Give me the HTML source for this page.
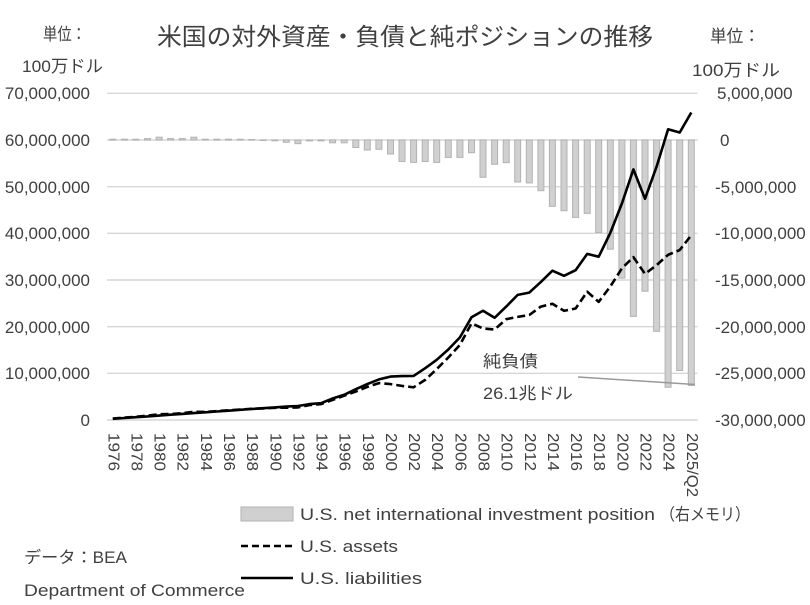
<!DOCTYPE html>
<html><head><meta charset="utf-8">
<style>
html,body{margin:0;padding:0;background:#fff;}
svg{display:block;}
text{font-family:"Liberation Sans","Noto Sans CJK JP",sans-serif;fill:#404040;}
.cjk{font-family:"Liberation Sans","Noto Sans CJK JP",sans-serif;}
</style></head>
<body>
<svg width="810" height="605" viewBox="0 0 810 605" xmlns="http://www.w3.org/2000/svg">
<rect width="810" height="605" fill="#fff"/>
<!-- title & units -->
<text x="405" y="45" font-size="24" text-anchor="middle" textLength="496" lengthAdjust="spacingAndGlyphs" fill="#262626" class="cjk">米国の対外資産・負債と純ポジションの推移</text>
<text x="43" y="40" font-size="17" textLength="43" lengthAdjust="spacingAndGlyphs" class="cjk">単位：</text>
<text x="22" y="72" font-size="17" textLength="81" lengthAdjust="spacingAndGlyphs" class="cjk">100万ドル</text>
<text x="710" y="42" font-size="17" textLength="50" lengthAdjust="spacingAndGlyphs" class="cjk">単位：</text>
<text x="692" y="76" font-size="17" textLength="88" lengthAdjust="spacingAndGlyphs" class="cjk">100万ドル</text>

<!-- gridlines -->
<g stroke="#d6d6d6" stroke-width="1.4">
<line x1="107" y1="93.3" x2="697.5" y2="93.3"/>
<line x1="107" y1="140" x2="697.5" y2="140"/>
<line x1="107" y1="186.7" x2="697.5" y2="186.7"/>
<line x1="107" y1="233.3" x2="697.5" y2="233.3"/>
<line x1="107" y1="280" x2="697.5" y2="280"/>
<line x1="107" y1="326.7" x2="697.5" y2="326.7"/>
<line x1="107" y1="373.3" x2="697.5" y2="373.3"/>
<line x1="107" y1="420" x2="697.5" y2="420"/>
</g>

<!-- left axis labels -->
<g font-size="17" text-anchor="end">
<text x="90" y="99">70,000,000</text>
<text x="90" y="146">60,000,000</text>
<text x="90" y="193">50,000,000</text>
<text x="90" y="239">40,000,000</text>
<text x="90" y="286">30,000,000</text>
<text x="90" y="333">20,000,000</text>
<text x="90" y="379">10,000,000</text>
<text x="90" y="426">0</text>
</g>
<!-- right axis labels -->
<g font-size="17" text-anchor="start">
<text x="717" y="99">5,000,000</text>
<text x="720" y="146">0</text>
<text x="715" y="193">-5,000,000</text>
<text x="715" y="239">-10,000,000</text>
<text x="715" y="286">-15,000,000</text>
<text x="715" y="333">-20,000,000</text>
<text x="715" y="379">-25,000,000</text>
<text x="715" y="426">-30,000,000</text>
</g>

<!-- bars -->
<g fill="#d0d0d0" stroke="#b2b2b2" stroke-width="1">
<rect x="109.8" y="139.2" width="6" height="0.8"/>
<rect x="121.4" y="139.2" width="6" height="0.8"/>
<rect x="132.9" y="139.2" width="6" height="0.8"/>
<rect x="144.5" y="138.6" width="6" height="1.4"/>
<rect x="156.1" y="137.2" width="6" height="2.8"/>
<rect x="167.6" y="138.6" width="6" height="1.4"/>
<rect x="179.2" y="138.6" width="6" height="1.4"/>
<rect x="190.8" y="137.2" width="6" height="2.8"/>
<rect x="202.3" y="139.2" width="6" height="0.8"/>
<rect x="213.9" y="139.2" width="6" height="0.8"/>
<rect x="225.5" y="139.2" width="6" height="0.8"/>
<rect x="237.1" y="139.2" width="6" height="0.8"/>
<rect x="248.6" y="139.5" width="6" height="0.5"/>
<rect x="260.2" y="140" width="6" height="0.5"/>
<rect x="271.8" y="140" width="6" height="0.8"/>
<rect x="283.3" y="140" width="6" height="2.3"/>
<rect x="294.9" y="140" width="6" height="3.7"/>
<rect x="306.5" y="140" width="6" height="0.9"/>
<rect x="318.0" y="140" width="6" height="0.9"/>
<rect x="329.6" y="140" width="6" height="2.8"/>
<rect x="341.2" y="140" width="6" height="2.8"/>
<rect x="352.8" y="140" width="6" height="7.5"/>
<rect x="364.3" y="140" width="6" height="10"/>
<rect x="375.9" y="140" width="6" height="9.3"/>
<rect x="387.5" y="140" width="6" height="14"/>
<rect x="399.0" y="140" width="6" height="21.5"/>
<rect x="410.6" y="140" width="6" height="22.4"/>
<rect x="422.2" y="140" width="6" height="21.5"/>
<rect x="433.7" y="140" width="6" height="22.4"/>
<rect x="445.3" y="140" width="6" height="17.4"/>
<rect x="456.9" y="140" width="6" height="17.4"/>
<rect x="468.5" y="140" width="6" height="12.7"/>
<rect x="480.0" y="140" width="6" height="37.3"/>
<rect x="491.6" y="140" width="6" height="24.3"/>
<rect x="503.2" y="140" width="6" height="22.7"/>
<rect x="514.7" y="140" width="6" height="42"/>
<rect x="526.3" y="140" width="6" height="42.9"/>
<rect x="537.9" y="140" width="6" height="50.7"/>
<rect x="549.4" y="140" width="6" height="66.3"/>
<rect x="561.0" y="140" width="6" height="70.7"/>
<rect x="572.6" y="140" width="6" height="77.4"/>
<rect x="584.2" y="140" width="6" height="73.4"/>
<rect x="595.7" y="140" width="6" height="92.4"/>
<rect x="607.3" y="140" width="6" height="109.2"/>
<rect x="618.9" y="140" width="6" height="138.1"/>
<rect x="630.4" y="140" width="6" height="176.4"/>
<rect x="642.0" y="140" width="6" height="151.2"/>
<rect x="653.6" y="140" width="6" height="191.3"/>
<rect x="665.1" y="140" width="6" height="247.3"/>
<rect x="676.7" y="140" width="6" height="230.5"/>
<rect x="688.3" y="140" width="6" height="245.5"/>
</g>

<!-- assets (dashed) -->
<polyline fill="none" stroke="#000" stroke-width="2.6" stroke-dasharray="8,4" stroke-linejoin="round"
points="112.8,418.5 124.4,417.6 135.9,416.8 147.5,415.7 159.1,414.2 170.6,414.0 182.2,413.2 193.8,411.7 205.3,411.9 216.9,411.1 228.5,410.3 240.1,409.5 251.6,408.8 263.2,408.4 274.8,407.8 286.3,407.7 297.9,407.4 309.5,405.1 321.0,404.1 332.6,399.9 344.2,395.7 355.8,391.5 367.3,386.9 378.9,383.1 390.5,384.1 402.0,385.9 413.6,387.3 425.2,379.9 436.7,369.1 448.3,357.5 459.9,344.9 471.5,323.4 483.0,328.5 494.6,329.5 506.2,319.2 517.7,316.9 529.3,315.0 540.9,306.6 552.4,303.8 564.0,310.8 575.6,308.5 587.2,291.7 598.7,301.9 610.3,286.5 621.9,268.3 633.4,257.1 645.0,273.9 656.6,265.1 668.1,254.8 679.7,250.1 691.3,235.2"/>
<!-- liabilities (solid) -->
<polyline fill="none" stroke="#000" stroke-width="2.6" stroke-linejoin="round"
points="112.8,418.8 124.4,418.0 135.9,417.2 147.5,416.4 159.1,415.6 170.6,414.7 182.2,413.9 193.8,413.1 205.3,412.3 216.9,411.5 228.5,410.7 240.1,409.8 251.6,409.0 263.2,408.2 274.8,407.4 286.3,406.6 297.9,406.0 309.5,404.1 321.0,403.2 332.6,398.5 344.2,394.8 355.8,389.2 367.3,384.1 378.9,379.4 390.5,376.6 402.0,376.1 413.6,375.9 425.2,368.2 436.7,359.8 448.3,349.5 459.9,337.4 471.5,317.3 483.0,310.8 494.6,317.8 506.2,306.6 517.7,294.9 529.3,292.6 540.9,281.9 552.4,270.7 564.0,275.8 575.6,270.2 587.2,253.9 598.7,256.7 610.3,232.9 621.9,203.5 633.4,169.4 645.0,198.8 656.6,166.6 668.1,129.3 679.7,132.5 691.3,112.5"/>

<!-- annotation -->
<line x1="578" y1="377" x2="695" y2="384.5" stroke="#999" stroke-width="1.5"/>
<text x="483" y="367" font-size="16.5" textLength="55" lengthAdjust="spacingAndGlyphs" class="cjk">純負債</text>
<text x="483" y="399" font-size="16.5" textLength="90" lengthAdjust="spacingAndGlyphs" class="cjk">26.1兆ドル</text>

<!-- x labels -->
<g font-size="16" fill="#262626">
<text transform="translate(112.8,433) rotate(90)" dominant-baseline="central" textLength="38" lengthAdjust="spacingAndGlyphs">1976</text>
<text transform="translate(135.9,433) rotate(90)" dominant-baseline="central" textLength="38" lengthAdjust="spacingAndGlyphs">1978</text>
<text transform="translate(159.1,433) rotate(90)" dominant-baseline="central" textLength="38" lengthAdjust="spacingAndGlyphs">1980</text>
<text transform="translate(182.2,433) rotate(90)" dominant-baseline="central" textLength="38" lengthAdjust="spacingAndGlyphs">1982</text>
<text transform="translate(205.3,433) rotate(90)" dominant-baseline="central" textLength="38" lengthAdjust="spacingAndGlyphs">1984</text>
<text transform="translate(228.5,433) rotate(90)" dominant-baseline="central" textLength="38" lengthAdjust="spacingAndGlyphs">1986</text>
<text transform="translate(251.6,433) rotate(90)" dominant-baseline="central" textLength="38" lengthAdjust="spacingAndGlyphs">1988</text>
<text transform="translate(274.8,433) rotate(90)" dominant-baseline="central" textLength="38" lengthAdjust="spacingAndGlyphs">1990</text>
<text transform="translate(297.9,433) rotate(90)" dominant-baseline="central" textLength="38" lengthAdjust="spacingAndGlyphs">1992</text>
<text transform="translate(321.0,433) rotate(90)" dominant-baseline="central" textLength="38" lengthAdjust="spacingAndGlyphs">1994</text>
<text transform="translate(344.2,433) rotate(90)" dominant-baseline="central" textLength="38" lengthAdjust="spacingAndGlyphs">1996</text>
<text transform="translate(367.3,433) rotate(90)" dominant-baseline="central" textLength="38" lengthAdjust="spacingAndGlyphs">1998</text>
<text transform="translate(390.5,433) rotate(90)" dominant-baseline="central" textLength="38" lengthAdjust="spacingAndGlyphs">2000</text>
<text transform="translate(413.6,433) rotate(90)" dominant-baseline="central" textLength="38" lengthAdjust="spacingAndGlyphs">2002</text>
<text transform="translate(436.7,433) rotate(90)" dominant-baseline="central" textLength="38" lengthAdjust="spacingAndGlyphs">2004</text>
<text transform="translate(459.9,433) rotate(90)" dominant-baseline="central" textLength="38" lengthAdjust="spacingAndGlyphs">2006</text>
<text transform="translate(483.0,433) rotate(90)" dominant-baseline="central" textLength="38" lengthAdjust="spacingAndGlyphs">2008</text>
<text transform="translate(506.2,433) rotate(90)" dominant-baseline="central" textLength="38" lengthAdjust="spacingAndGlyphs">2010</text>
<text transform="translate(529.3,433) rotate(90)" dominant-baseline="central" textLength="38" lengthAdjust="spacingAndGlyphs">2012</text>
<text transform="translate(552.4,433) rotate(90)" dominant-baseline="central" textLength="38" lengthAdjust="spacingAndGlyphs">2014</text>
<text transform="translate(575.6,433) rotate(90)" dominant-baseline="central" textLength="38" lengthAdjust="spacingAndGlyphs">2016</text>
<text transform="translate(598.7,433) rotate(90)" dominant-baseline="central" textLength="38" lengthAdjust="spacingAndGlyphs">2018</text>
<text transform="translate(621.9,433) rotate(90)" dominant-baseline="central" textLength="38" lengthAdjust="spacingAndGlyphs">2020</text>
<text transform="translate(645.0,433) rotate(90)" dominant-baseline="central" textLength="38" lengthAdjust="spacingAndGlyphs">2022</text>
<text transform="translate(668.1,433) rotate(90)" dominant-baseline="central" textLength="38" lengthAdjust="spacingAndGlyphs">2024</text>
<text transform="translate(691.3,433) rotate(90)" dominant-baseline="central" textLength="64" lengthAdjust="spacingAndGlyphs">2025/Q2</text>
</g>

<!-- legend -->
<rect x="241" y="507" width="52" height="14" fill="#d0d0d0" stroke="#b2b2b2" stroke-width="1"/>
<text x="300" y="520" font-size="16.5" fill="#262626" textLength="355" lengthAdjust="spacingAndGlyphs">U.S. net international investment position</text>
<text x="660" y="520" font-size="16.5" fill="#262626" textLength="90" lengthAdjust="spacingAndGlyphs" class="cjk">（右メモリ）</text>
<line x1="241" y1="546" x2="293" y2="546" stroke="#000" stroke-width="2.6" stroke-dasharray="7,4"/>
<text x="300" y="552" font-size="16.5" fill="#262626" textLength="98" lengthAdjust="spacingAndGlyphs">U.S. assets</text>
<line x1="241" y1="578" x2="293" y2="578" stroke="#000" stroke-width="2.6"/>
<text x="300" y="584" font-size="16.5" fill="#262626" textLength="122" lengthAdjust="spacingAndGlyphs">U.S. liabilities</text>
<text x="24" y="563" font-size="16.5" fill="#262626" textLength="103" lengthAdjust="spacingAndGlyphs" class="cjk">データ：BEA</text>
<text x="24" y="596" font-size="16.5" fill="#262626" textLength="221" lengthAdjust="spacingAndGlyphs">Department of Commerce</text>
</svg>
</body></html>
